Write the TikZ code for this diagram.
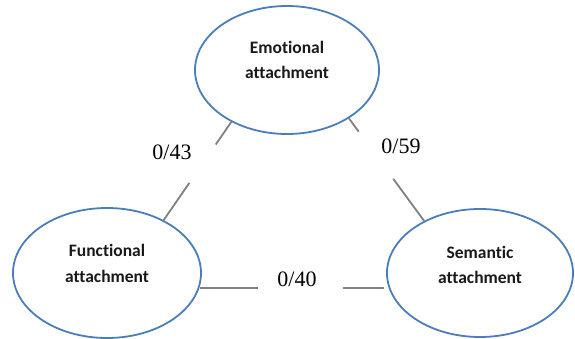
\documentclass[tikz,border=0pt]{standalone}
\usepackage{fontspec}
\setmainfont{Liberation Serif}
\newfontfamily\calibfont[Ligatures=NoCommon]{Carlito}
\usetikzlibrary{shapes.geometric,calc}
\definecolor{ellblue}{RGB}{74,126,187}
\definecolor{conngray}{RGB}{128,128,128}
\definecolor{txtdark}{RGB}{25,25,25}
\begin{document}
\begin{tikzpicture}[x=1pt,y=-1pt,
  ell/.style={ellipse, draw=ellblue, line width=1.8pt, inner sep=0pt},
  elltext/.style={font=\calibfont\bfseries\fontsize{17.5}{25.5}\selectfont, align=center, text=txtdark, inner sep=0pt},
  conn/.style={draw=conngray, line width=1.8pt},
  lab/.style={font=\fontsize{22}{26}\selectfont, inner sep=0pt, text=black}]
\useasboundingbox (0,0) rectangle (575,339);
\node[ell, minimum width=184pt, minimum height=128pt,
  label={[elltext, yshift=10pt]center:{Emotional\\attachment}}] (emo) at (287,70) {};
\node[ell, minimum width=188pt, minimum height=130pt,
  label={[elltext, yshift=9.5pt]center:{Functional\\attachment}}] (fun) at (107,273) {};
\node[ell, minimum width=186pt, minimum height=128pt,
  label={[elltext, yshift=8pt]center:{Semantic\\attachment}}] (sem) at (480,273) {};
% connectors with gaps
\path (emo.223) -- (fun.43) coordinate[pos=.23] (a1) coordinate[pos=.62] (a2);
\draw[conn] (emo.223) -- (a1);
\draw[conn] (a2) -- (fun.43);
\path (emo.322) -- (sem.137) coordinate[pos=.13] (b1) coordinate[pos=.59] (b2);
\draw[conn] (emo.322) -- (b1);
\draw[conn] (b2) -- (sem.137);
\coordinate (c0) at (fun.351.5);
\path (c0) -- (c0 -| sem.188.5) coordinate[pos=.31] (c1) coordinate[pos=.76] (c2) coordinate[pos=.98] (c3);
\draw[conn] (c0) -- (c1);
\draw[conn] (c2) -- (c3);
% labels
\node[lab] (l1) at (172,152.5) {0/43};
\node[lab] (l2) at (401,146.5) {0/59};
\node[lab] (l3) at (297,279.5) {0/40};
\end{tikzpicture}
\end{document}
